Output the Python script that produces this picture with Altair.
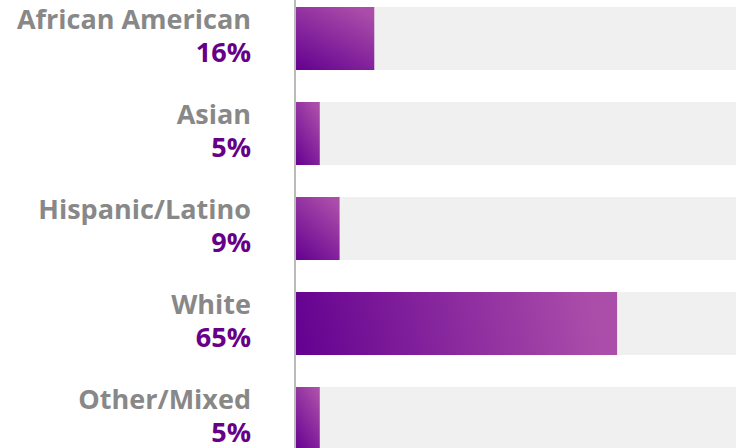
import altair as alt
import pandas as pd

categories = ["African American", "Asian", "Hispanic/Latino", "White", "Other/Mixed"]
values = [16, 5, 9, 65, 5]
pct_labels = ["16%", "5%", "9%", "65%", "5%"]
track_max = [100, 100, 100, 100, 100]

df = pd.DataFrame({
    "cat": categories,
    "val": values,
    "pct": pct_labels,
    "track": track_max,
})

yenc = alt.Y("cat:N", sort=categories, axis=None,
             scale=alt.Scale(range=[7, 450], paddingInner=0.337, paddingOuter=0))
xscale = alt.Scale(domain=[0, 89], nice=False)

base = alt.Chart(df)

track = base.mark_bar(color="#F0F0F0", clip=True).encode(
    x=alt.X("track:Q", scale=xscale, axis=None),
    y=yenc,
)

stops = [
    {"offset": 0, "color": "#640090"},
    {"offset": 0.92, "color": "#AB4EAA"},
    {"offset": 1, "color": "#AB4EAA"},
]
grad_wide = {"gradient": "linear", "x1": 0, "y1": 1, "x2": 1.037, "y2": 0.96, "stops": stops}
grad_narrow = {"gradient": "linear", "x1": 0, "y1": 1, "x2": 0.734, "y2": -0.167, "stops": stops}

bars_wide = base.mark_bar(color=grad_wide).encode(
    x=alt.X("val:Q", scale=xscale, axis=None),
    y=yenc,
).transform_filter(alt.datum.val >= 30)

bars_narrow = base.mark_bar(color=grad_narrow).encode(
    x=alt.X("val:Q", scale=xscale, axis=None),
    y=yenc,
).transform_filter(alt.datum.val < 30)

axis_line = alt.Chart(pd.DataFrame({"a": [0]})).mark_rule(
    color="#BBBBBB", strokeWidth=2
).encode(
    x=alt.value(0),
    y=alt.value(0),
    y2=alt.value(448),
)

cat_text = base.mark_text(
    align="right", baseline="alphabetic", dy=-9.5,
    font="Open Sans", fontWeight="bold", fontSize=27, color="#888888",
).encode(
    x=alt.value(-44),
    y=yenc,
    text="cat:N",
)

pct_text = base.mark_text(
    align="right", baseline="alphabetic", dy=23.5,
    font="Open Sans", fontWeight="bold", fontSize=27, color="#660088",
).encode(
    x=alt.value(-44),
    y=yenc,
    text="pct:N",
)

chart = alt.layer(track, bars_wide, bars_narrow, axis_line, cat_text, pct_text).properties(
    width=441,
    height=448,
    padding={"left": 295, "top": 0, "right": 0, "bottom": 0},
    autosize=alt.AutoSizeParams(type="none"),
).configure_view(stroke=None)

chart.save("out.html", embed_options={"renderer": "svg", "actions": False})
